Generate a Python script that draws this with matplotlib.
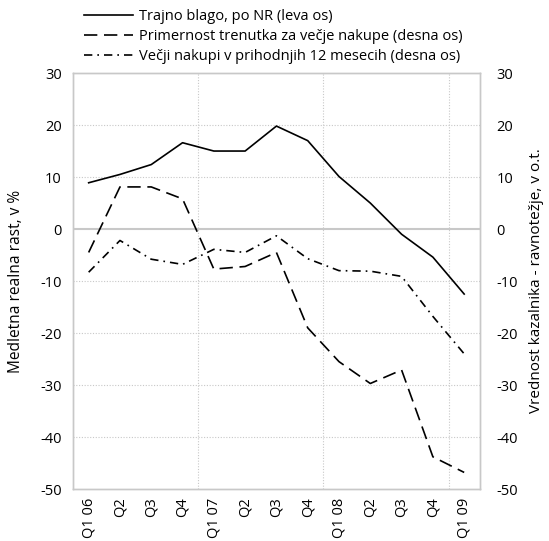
import matplotlib
matplotlib.use("Agg")
import matplotlib.pyplot as plt
import numpy as np

# podatki odčitani s slike
QUARTERS = ["Q1 06", "Q2", "Q3", "Q4", "Q1 07", "Q2", "Q3", "Q4",
            "Q1 08", "Q2", "Q3", "Q4", "Q1 09"]
TRAJNO = [8.9, 10.5, 12.4, 16.6, 15.0, 15.0, 19.8, 17.0, 10.1, 5.0, -1.0, -5.4, -12.5]
PRIMERNOST = [-4.5, 8.1, 8.1, 5.8, -7.7, -7.2, -4.5, -19.0, -25.5, -29.7, -27.1, -43.8, -46.8]
NAKUPI = [-8.3, -2.2, -5.8, -6.8, -3.9, -4.5, -1.3, -5.7, -8.0, -8.1, -9.1, -16.8, -24.0]

LABELS = ["Trajno blago, po NR (leva os)",
          "Primernost trenutka za večje nakupe (desna os)",
          "Večji nakupi v prihodnjih 12 mesecih (desna os)"]

plt.rcParams["font.family"] = ["Open Sans", "DejaVu Sans"]
plt.rcParams["font.size"] = 10
plt.rcParams["axes.unicode_minus"] = False

fig = plt.figure(figsize=(5.49, 5.41), dpi=100)
ax = fig.add_axes([0.133, 0.096, 0.741, 0.769])
ax2 = ax.twinx()

x = np.arange(len(QUARTERS))
GRID = "#c8c8c8"

l1, = ax.plot(x, TRAJNO, color="black", lw=1.2, label=LABELS[0])
l2, = ax2.plot(x, PRIMERNOST, color="black", lw=1.2, dashes=(8, 4), label=LABELS[1])
l3, = ax2.plot(x, NAKUPI, color="black", lw=1.2, dashes=(5, 3, 1, 3), label=LABELS[2])

for a in (ax, ax2):
    a.set_ylim(-50, 30)
    a.set_yticks(np.arange(-50, 31, 10))
    a.set_xlim(-0.5, len(QUARTERS) - 0.5)
    for s in a.spines.values():
        s.set_color(GRID)
        s.set_linewidth(1.0)
    a.tick_params(length=0, pad=8, labelsize=10.5)

ax.set_xticks(x)
ax.set_xticklabels(QUARTERS, rotation=90)
ax.tick_params(axis="x", pad=6)
ax2.tick_params(axis="y", pad=12)

# mreža
for v in np.arange(-40, 30, 10):
    if v == 0:
        ax.axhline(0, color=GRID, lw=1.5, zorder=0)
    else:
        ax.axhline(v, color=GRID, lw=0.8, ls=(0, (1, 1.5)), zorder=0)
for b in (3.5, 7.5, 11.5):
    ax.axvline(b, color=GRID, lw=0.8, ls=(0, (1, 1.5)), zorder=0)

ax.set_ylabel("Medletna realna rast, v %", fontsize=11.2, labelpad=12)
ax2.set_ylabel("Vrednost kazalnika - ravnotežje, v o.t.", fontsize=11, labelpad=8)

fig.legend(handles=[l1, l2, l3], loc="upper left", bbox_to_anchor=(0.135, 1.0),
           frameon=False, fontsize=10.5, handlelength=3.4, handletextpad=0.4,
           labelspacing=0.32, borderaxespad=0.25)

fig.savefig("out.png", dpi=100)
